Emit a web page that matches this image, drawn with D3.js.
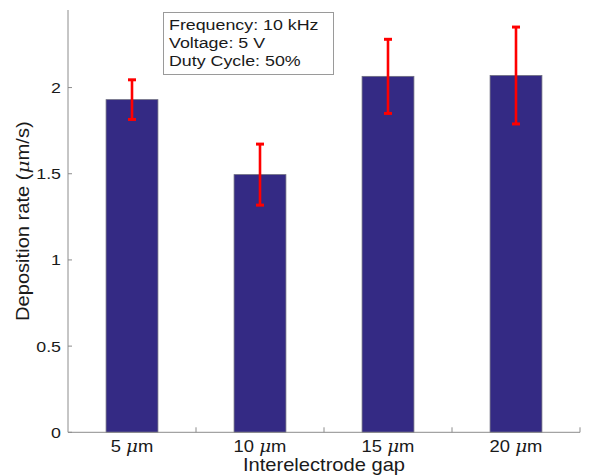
<!DOCTYPE html>
<html>
<head>
<meta charset="utf-8">
<script src="https://cdn.jsdelivr.net/npm/d3@7"></script>
<style>
  html, body { margin: 0; padding: 0; background: #fff; }
  svg { display: block; font-family: "Liberation Sans", Arial, Helvetica, sans-serif; }
</style>
</head>
<body>
<svg id="chart" width="589" height="476"></svg>
<script>
const categories = ["5", "10", "15", "20"];
const rates = [1.93, 1.495, 2.065, 2.07];
const errors = [0.115, 0.177, 0.215, 0.281];
const yTicks = [0, 0.5, 1, 1.5, 2];
const yMax = 2.45;
const annotation = ["Frequency: 10 kHz", "Voltage: 5 V", "Duty Cycle: 50%"];

(function () {
const svg = d3.select("#chart");
const mLeft = 68, mRight = 580, mTop = 10, mBottom = 432.3;
const SX = 1.15; // horizontal stretch of glyphs, as in the reference rendering

const x = d3.scaleBand().domain(categories).range([mLeft, mRight]).paddingInner(0).paddingOuter(0);
const y = d3.scaleLinear().domain([0, yMax]).range([mBottom, mTop]);
const barW = x.bandwidth() * 0.405;

const axisColor = "#8c8c8c";
const textColor = "#1a1a1a";
const muFont = "'DejaVu Serif', 'Liberation Serif', serif";

function label(parent, tx, ty, anchor, size, extra) {
  const g = parent.append("g").attr("transform", `translate(${tx},${ty}) ${extra || ""} scale(${SX},1)`);
  return g.append("text")
    .attr("text-anchor", anchor)
    .attr("font-size", size)
    .attr("fill", textColor);
}

// bars
svg.append("g").selectAll("rect").data(categories).join("rect")
  .attr("x", (d) => x(d) + x.bandwidth() / 2 - barW / 2)
  .attr("y", (d, i) => y(rates[i]))
  .attr("width", barW)
  .attr("height", (d, i) => y(0) - y(rates[i]))
  .attr("fill", "#342a84")
  .attr("stroke", "#6e6e80")
  .attr("stroke-width", 0.8);

// axes lines
svg.append("line").attr("x1", mLeft).attr("x2", mLeft).attr("y1", mTop).attr("y2", mBottom)
  .attr("stroke", axisColor).attr("stroke-width", 1);
svg.append("line").attr("x1", mLeft).attr("x2", mRight).attr("y1", mBottom).attr("y2", mBottom)
  .attr("stroke", axisColor).attr("stroke-width", 1);

// y ticks
const yg = svg.append("g");
yg.selectAll("line").data(yTicks).join("line")
  .attr("x1", mLeft).attr("x2", mLeft + 4)
  .attr("y1", (d) => y(d)).attr("y2", (d) => y(d))
  .attr("stroke", axisColor);
yTicks.forEach((t) => {
  label(yg, mLeft - 7, y(t) + 5.5, "end", 15.5).text(String(t));
});

// x ticks at band boundaries
const xBounds = categories.slice(1).map((c) => x(c)).concat([mRight]);
svg.append("g").selectAll("line").data(xBounds).join("line")
  .attr("x1", (d) => d).attr("x2", (d) => d)
  .attr("y1", mBottom).attr("y2", mBottom - 5)
  .attr("stroke", axisColor);

// x labels
const xg = svg.append("g");
categories.forEach((c) => {
  const t = label(xg, x(c) + x.bandwidth() / 2, 452, "middle", 16);
  t.append("tspan").text(c + " ");
  t.append("tspan").attr("font-family", muFont).attr("font-style", "italic").text("\u03bc");
  t.append("tspan").text("m");
});

// x title
label(svg, (mLeft + mRight) / 2, 471, "middle", 17.5).text("Interelectrode gap");

// y title
const yt = label(svg, 28.5, (mTop + mBottom) / 2, "middle", 17.5, "rotate(-90)");
yt.append("tspan").text("Deposition rate (");
yt.append("tspan").attr("font-family", muFont).attr("font-style", "italic").text("\u03bc");
yt.append("tspan").text("m/s)");

// error bars
const eg = svg.append("g").attr("stroke", "#ff0000").attr("fill", "none");
const capW = 8;
categories.forEach((c, i) => {
  const cx = x(c) + x.bandwidth() / 2;
  const hi = y(rates[i] + errors[i]);
  const lo = y(rates[i] - errors[i]);
  eg.append("line").attr("x1", cx).attr("x2", cx).attr("y1", hi).attr("y2", lo).attr("stroke-width", 2.6);
  eg.append("line").attr("x1", cx - capW / 2).attr("x2", cx + capW / 2).attr("y1", hi).attr("y2", hi).attr("stroke-width", 3);
  eg.append("line").attr("x1", cx - capW / 2).attr("x2", cx + capW / 2).attr("y1", lo).attr("y2", lo).attr("stroke-width", 3);
});

// annotation box
svg.append("rect")
  .attr("x", 163.5).attr("y", 12.5).attr("width", 170).attr("height", 62)
  .attr("fill", "#fff").attr("stroke", "#9a9a9a").attr("stroke-width", 1);
const ag = svg.append("g");
annotation.forEach((d, i) => {
  label(ag, 169, 29.5 + i * 18.2, "start", 15.5).text(d);
});
})();
</script>
</body>
</html>
